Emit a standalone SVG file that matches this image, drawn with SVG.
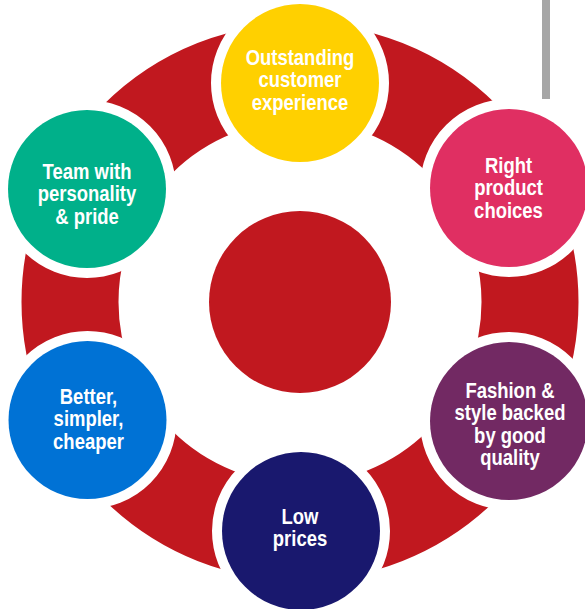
<svg xmlns="http://www.w3.org/2000/svg" width="585" height="609" viewBox="0 0 585 609">
  <style>
    .bubble { stroke: #ffffff; stroke-width: 20; paint-order: stroke; }
    .lbl { font-family: "Liberation Sans", Arial, sans-serif; font-weight: bold; font-size: 22px; fill: #ffffff; text-anchor: middle; }
  </style>
  <rect x="0" y="0" width="585" height="609" fill="#ffffff"/>
  <rect id="bar" x="542" y="0" width="8" height="99" fill="#a6a6a6"/>
  <g id="connectors">
    <circle id="ring" cx="300" cy="302" r="230" fill="none" stroke="#c1181f" stroke-width="97"/>
  </g>
  <g id="hub">
    <circle cx="300" cy="302" r="91" fill="#c1181f"/>
  </g>
  <g id="node-experience">
    <circle class="bubble" cx="300" cy="83" r="79" fill="#ffd000"/>
    <g transform="translate(300 0) scale(0.84 1)">
      <text class="lbl" x="0" y="65">Outstanding</text>
      <text class="lbl" x="0" y="87.5">customer</text>
      <text class="lbl" x="0" y="110">experience</text>
    </g>
  </g>
  <g id="node-product">
    <circle class="bubble" cx="509" cy="188" r="79" fill="#e02f62"/>
    <g transform="translate(508.5 0) scale(0.84 1)">
      <text class="lbl" x="0" y="173">Right</text>
      <text class="lbl" x="0" y="195.5">product</text>
      <text class="lbl" x="0" y="218">choices</text>
    </g>
  </g>
  <g id="node-fashion">
    <circle class="bubble" cx="509" cy="421" r="79" fill="#722963"/>
    <g transform="translate(510 0) scale(0.84 1)">
      <text class="lbl" x="0" y="398">Fashion &amp;</text>
      <text class="lbl" x="0" y="420.5">style backed</text>
      <text class="lbl" x="0" y="443">by good</text>
      <text class="lbl" x="0" y="465.5">quality</text>
    </g>
  </g>
  <g id="node-prices">
    <circle class="bubble" cx="301" cy="531" r="79" fill="#19186e"/>
    <g transform="translate(300 0) scale(0.84 1)">
      <text class="lbl" x="0" y="524">Low</text>
      <text class="lbl" x="0" y="546.5">prices</text>
    </g>
  </g>
  <g id="node-better">
    <circle class="bubble" cx="87.5" cy="420" r="79" fill="#0072d5"/>
    <g transform="translate(88.5 0) scale(0.84 1)">
      <text class="lbl" x="0" y="404">Better,</text>
      <text class="lbl" x="0" y="426.5">simpler,</text>
      <text class="lbl" x="0" y="449">cheaper</text>
    </g>
  </g>
  <g id="node-team">
    <circle class="bubble" cx="87" cy="189" r="79" fill="#00b08a"/>
    <g transform="translate(87 0) scale(0.84 1)">
      <text class="lbl" x="0" y="179">Team with</text>
      <text class="lbl" x="0" y="201.5">personality</text>
      <text class="lbl" x="0" y="224">&amp; pride</text>
    </g>
  </g>
</svg>
